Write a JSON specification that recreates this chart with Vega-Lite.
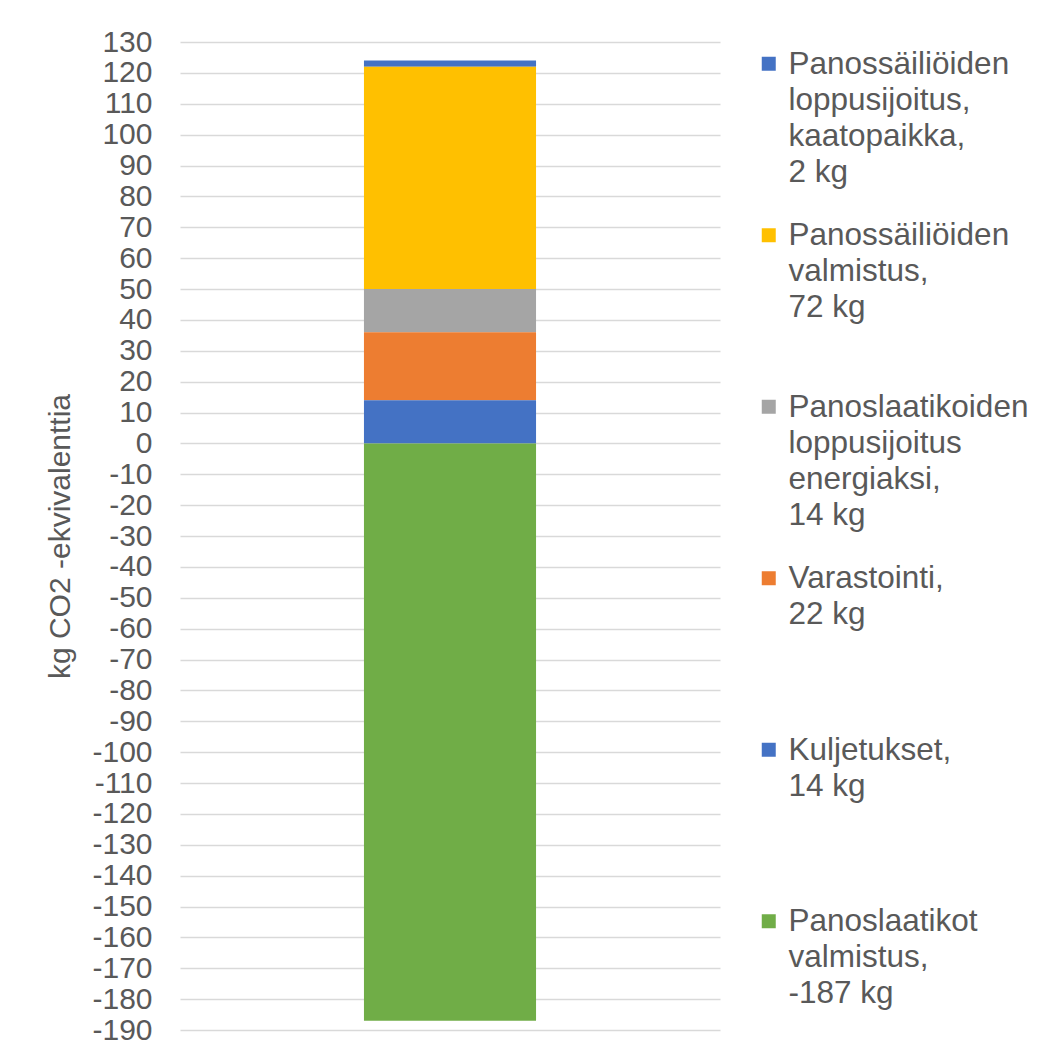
{
  "$schema": "https://vega.github.io/schema/vega-lite/v6.json",
  "width": 540,
  "height": 988,
  "autosize": {"type": "none"},
  "padding": {"left": 180, "top": 42, "right": 326, "bottom": 25},
  "background": "white",
  "config": {
    "font": "Liberation Sans",
    "view": {"stroke": null},
    "axis": {
      "labelFont": "Liberation Sans",
      "titleFont": "Liberation Sans",
      "gridColor": "#d9d9d9",
      "gridWidth": 1.5
    },
    "legend": {"labelFont": "Liberation Sans"}
  },
  "data": {
    "values": [
      {"kohde": "Panossäiliöiden\nloppusijoitus,\nkaatopaikka,\n2 kg", "kg": 2, "jarjestys": 5},
      {"kohde": "Panossäiliöiden\nvalmistus,\n72 kg", "kg": 72, "jarjestys": 4},
      {"kohde": "Panoslaatikoiden\nloppusijoitus\nenergiaksi,\n14 kg", "kg": 14, "jarjestys": 3},
      {"kohde": "Varastointi,\n22 kg", "kg": 22, "jarjestys": 2},
      {"kohde": "Kuljetukset,\n14 kg", "kg": 14, "jarjestys": 1},
      {"kohde": "Panoslaatikot\nvalmistus,\n-187 kg", "kg": -187, "jarjestys": 0}
    ]
  },
  "mark": {"type": "bar", "width": {"band": 0.956}},
  "encoding": {
    "x": {
      "datum": "yhteensä",
      "type": "nominal",
      "scale": {"paddingInner": 0, "paddingOuter": 1},
      "axis": null
    },
    "y": {
      "field": "kg",
      "type": "quantitative",
      "stack": "zero",
      "scale": {"domain": [-190, 130], "nice": false, "zero": false},
      "axis": {
        "title": "kg CO2 -ekvivalenttia",
        "values": [-190, -180, -170, -160, -150, -140, -130, -120, -110, -100, -90, -80, -70, -60, -50, -40, -30, -20, -10, 0, 10, 20, 30, 40, 50, 60, 70, 80, 90, 100, 110, 120, 130],
        "labelExpr": "'' + datum.value",
        "ticks": false,
        "domain": false,
        "labelFontSize": 30,
        "labelColor": "#595959",
        "labelPadding": 28,
        "labelOverlap": false,
        "labelBound": false,
        "titleFontSize": 30,
        "titleFontWeight": "normal",
        "titleColor": "#595959",
        "titlePadding": 16
      }
    },
    "color": {
      "field": "kohde",
      "type": "nominal",
      "scale": {
        "domain": [
          "Panossäiliöiden\nloppusijoitus,\nkaatopaikka,\n2 kg",
          "Panossäiliöiden\nvalmistus,\n72 kg",
          "Panoslaatikoiden\nloppusijoitus\nenergiaksi,\n14 kg",
          "Varastointi,\n22 kg",
          "Kuljetukset,\n14 kg",
          "Panoslaatikot\nvalmistus,\n-187 kg"
        ],
        "range": ["#4472C4", "#FFC000", "#A5A5A5", "#ED7D31", "#4472C4", "#70AD47"]
      },
      "legend": {
        "orient": "none",
        "legendX": 573,
        "legendY": 6,
        "title": null,
        "padding": 0,
        "symbolType": "square",
        "symbolSize": 196,
        "symbolStrokeWidth": 0,
        "symbolOpacity": 1,
        "labelFontSize": 31.5,
        "labelColor": "#595959",
        "labelLimit": 400,
        "labelOffset": 4,
        "labelBaseline": "top",
        "gridAlign": "all",
        "rowPadding": 30.5,
        "labelExpr": "split(datum.label, '\\n')",
        "encode": {
          "labels": {
            "update": {
              "dy": {"value": -15},
              "lineHeight": {"value": 36}
            }
          }
        }
      }
    },
    "order": {"field": "jarjestys", "type": "quantitative"}
  }
}
